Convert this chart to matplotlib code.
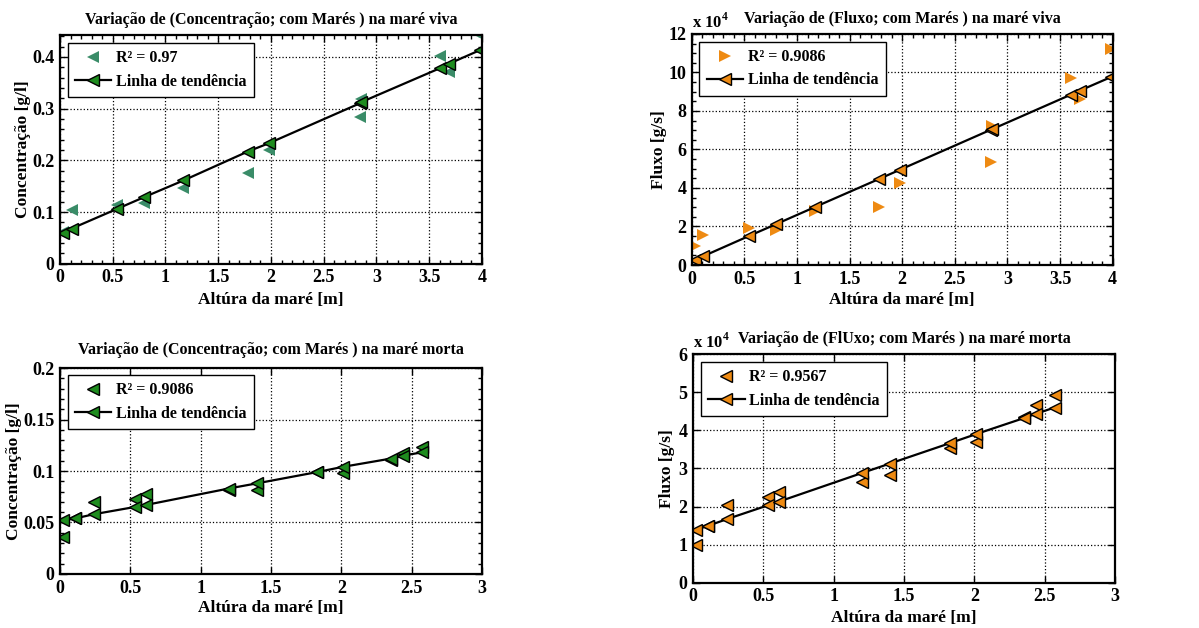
import matplotlib
matplotlib.use("Agg")
import matplotlib.pyplot as plt
from matplotlib.ticker import AutoMinorLocator, FuncFormatter, NullLocator

plt.rcParams["font.family"] = ["Liberation Serif", "DejaVu Serif"]
plt.rcParams["font.weight"] = "bold"
plt.rcParams["axes.titleweight"] = "bold"
plt.rcParams["axes.labelweight"] = "bold"
plt.rcParams["mathtext.fontset"] = "custom"
plt.rcParams["mathtext.rm"] = "Liberation Serif"
plt.rcParams["mathtext.bf"] = "Liberation Serif:bold"

# maré viva: altura da maré [m]
x_viva = [0.03, 0.11, 0.54, 0.80, 1.17, 1.78, 1.98, 2.84, 2.85, 3.60, 3.69, 3.98]
conc_viva = [0.062, 0.103, 0.114, 0.118, 0.147, 0.176, 0.220, 0.284, 0.319, 0.402, 0.371, 0.442]
conc_viva_trend = [0.060, 0.068, 0.106, 0.129, 0.161, 0.217, 0.233, 0.310, 0.312, 0.378, 0.387, 0.413]
fluxo_viva = [9900, 15600, 19200, 18200, 28000, 30000, 42800, 53700, 72000, 97000, 86000, 112000]
fluxo_viva_trend = [2700, 4600, 15000, 21200, 30100, 44700, 49500, 70200, 70400, 88400, 90600, 97500]

# maré morta
x_morta = [0.02, 0.11, 0.24, 0.53, 0.61, 1.20, 1.40, 1.83, 2.01, 2.35, 2.44, 2.57]
conc_morta = [0.036, 0.054, 0.070, 0.073, 0.078, 0.082, 0.0815, 0.099, 0.098, 0.111, 0.117, 0.123]
conc_morta_trend = [0.052, 0.054, 0.058, 0.065, 0.067, 0.083, 0.088, 0.099, 0.104, 0.112, 0.115, 0.118]
fluxo_morta = [10000, 14900, 20400, 22500, 23700, 26500, 28300, 35300, 37000, 43400, 46600, 49400]
fluxo_morta_trend = [13900, 15000, 16700, 20300, 21300, 28800, 31300, 36700, 39000, 43200, 44400, 46000]

GREEN_SC = "#3a8c68"
GREEN = "#1e8c1e"
ORANGE = "#ee8a12"

fig = plt.figure(figsize=(11.99, 6.28), dpi=100)


def panel(rect, x, y, yt, title, ylabel, r2, sc_marker, sc_color, sc_edge,
          tr_color, xlim, ylim, xmaj, ymaj, xminor, yminor, ylab_x, xlab_y,
          flux=False, title_pad=8):
    ax = fig.add_axes(rect)
    ax.plot(x, y, ls="none", marker=sc_marker, ms=8.5, mfc=sc_color,
            mec=sc_edge, mew=1.0 if sc_edge != "none" else 0, label=f"R² = {r2}")
    ax.plot(x, yt, color="black", lw=1.6, marker="<", ms=8.5, mfc=tr_color,
            mec="black", mew=1.0, label="Linha de tendência")
    ax.set_xlim(*xlim)
    ax.set_ylim(*ylim)
    ax.set_xticks(xmaj)
    ax.set_yticks(ymaj)
    ax.xaxis.set_minor_locator(AutoMinorLocator(xminor) if xminor else NullLocator())
    ax.yaxis.set_minor_locator(AutoMinorLocator(yminor) if yminor else NullLocator())
    ax.xaxis.set_major_formatter(FuncFormatter(lambda v, p: f"{v:g}"))
    if flux:
        ax.yaxis.set_major_formatter(FuncFormatter(lambda v, p: f"{v / 1e4:g}"))
        ax.text(0.0, 1.01, r"x 10$^{\mathbf{4}}$", transform=ax.transAxes, fontsize=12,
                ha="left", va="bottom")
    else:
        ax.yaxis.set_major_formatter(FuncFormatter(lambda v, p: f"{v:g}"))
    ax.tick_params(which="both", direction="in", top=True, right=True,
                   labelsize=13, width=1.0)
    ax.tick_params(which="major", length=5, pad=4)
    ax.tick_params(which="minor", length=3)
    ax.grid(True, which="major", ls=":", color="black", lw=0.9)
    for s in ax.spines.values():
        s.set_linewidth(1.6)
    ax.set_title(title, fontsize=11.5, pad=title_pad)
    ax.set_xlabel("Altúra da maré [m]", fontsize=12.5)
    ax.set_ylabel(ylabel, fontsize=12.5)
    ax.yaxis.set_label_coords(ylab_x, 0.5)
    ax.xaxis.set_label_coords(0.5, xlab_y)
    leg = ax.legend(loc="upper left", bbox_to_anchor=(0.018, 0.965), borderaxespad=0,
                    fontsize=11.5, fancybox=False, framealpha=1, edgecolor="black",
                    handlelength=2.3, handletextpad=0.3, borderpad=0.45,
                    labelspacing=0.45, numpoints=1)
    leg.get_frame().set_linewidth(1.0)
    return ax


panel([0.050, 0.580, 0.352, 0.364], x_viva, conc_viva, conc_viva_trend,
      "Variação de (Concentração; com Marés ) na maré viva", "Concentração [g/l]",
      "0.97", "<", GREEN_SC, "none", GREEN, (0, 4), (0, 0.442),
      [0, 0.5, 1, 1.5, 2, 2.5, 3, 3.5, 4], [0, 0.1, 0.2, 0.3, 0.4], 5, 5,
      -0.069, -0.122)

panel([0.577, 0.578, 0.351, 0.368], x_viva, fluxo_viva, fluxo_viva_trend,
      "Variação de (Fluxo; com Marés ) na maré viva", "Fluxo [g/s]",
      "0.9086", ">", ORANGE, "none", ORANGE, (0, 4), (0, 120000),
      [0, 0.5, 1, 1.5, 2, 2.5, 3, 3.5, 4], [0, 20000, 40000, 60000, 80000, 100000, 120000],
      5, 4, -0.059, -0.117, flux=True)

panel([0.050, 0.086, 0.352, 0.328], x_morta, conc_morta, conc_morta_trend,
      "Variação de (Concentração; com Marés ) na maré morta", "Concentração [g/l]",
      "0.9086", "<", GREEN, "black", GREEN, (0, 3), (0, 0.2),
      [0, 0.5, 1, 1.5, 2, 2.5, 3], [0, 0.05, 0.1, 0.15, 0.2], 0, 5,
      -0.090, -0.126, title_pad=10)

panel([0.578, 0.072, 0.352, 0.364], x_morta, fluxo_morta, fluxo_morta_trend,
      "Variação de (FlUxo; com Marés ) na maré morta", "Fluxo [g/s]",
      "0.9567", "<", ORANGE, "black", ORANGE, (0, 3), (0, 60000),
      [0, 0.5, 1, 1.5, 2, 2.5, 3], [0, 10000, 20000, 30000, 40000, 50000, 60000],
      0, 0, -0.043, -0.118, flux=True)

fig.savefig("out.png", dpi=100, facecolor="white")
